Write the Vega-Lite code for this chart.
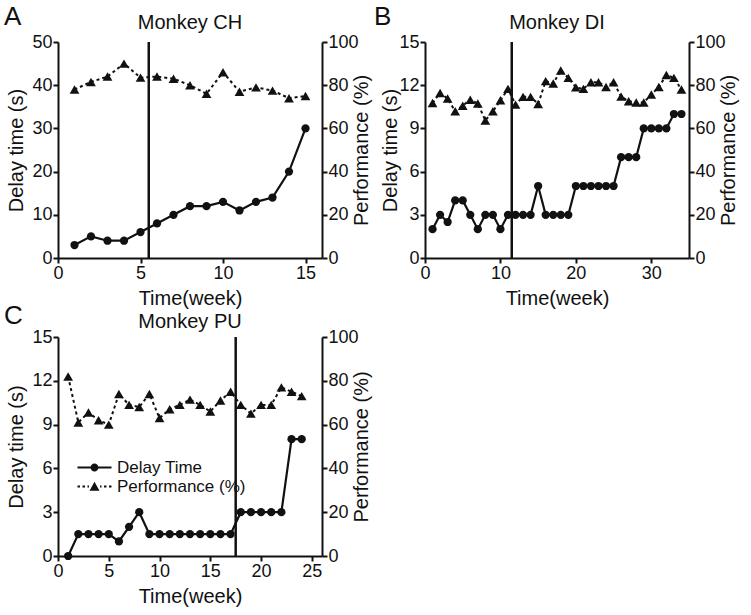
{
  "$schema": "https://vega.github.io/schema/vega-lite/v6.json",
  "background": "white",
  "padding": {"left": 3, "top": 4, "right": 3, "bottom": 3},
  "datasets": {
    "ch": [
      {"week": 1, "delay": 3, "perf": 78},
      {"week": 2, "delay": 5, "perf": 81.5},
      {"week": 3, "delay": 4, "perf": 84},
      {"week": 4, "delay": 4, "perf": 90},
      {"week": 5, "delay": 6, "perf": 83.5},
      {"week": 6, "delay": 8, "perf": 84},
      {"week": 7, "delay": 10, "perf": 83},
      {"week": 8, "delay": 12, "perf": 80},
      {"week": 9, "delay": 12, "perf": 76},
      {"week": 10, "delay": 13, "perf": 86},
      {"week": 11, "delay": 11, "perf": 77},
      {"week": 12, "delay": 13, "perf": 79},
      {"week": 13, "delay": 14, "perf": 77.5},
      {"week": 14, "delay": 20, "perf": 74},
      {"week": 15, "delay": 30, "perf": 75}
    ],
    "ch_switch": [{"week": 5.5}],
    "di": [
      {"week": 1, "delay": 2, "perf": 71.8},
      {"week": 2, "delay": 3, "perf": 76.4},
      {"week": 3, "delay": 2.5, "perf": 73.8},
      {"week": 4, "delay": 4, "perf": 67.9},
      {"week": 5, "delay": 4, "perf": 70.5},
      {"week": 6, "delay": 3, "perf": 73.3},
      {"week": 7, "delay": 2, "perf": 71.5},
      {"week": 8, "delay": 3, "perf": 63.7},
      {"week": 9, "delay": 3, "perf": 67.9},
      {"week": 10, "delay": 2, "perf": 73},
      {"week": 11, "delay": 3, "perf": 78.3},
      {"week": 12, "delay": 3, "perf": 71},
      {"week": 13, "delay": 3, "perf": 74.6},
      {"week": 14, "delay": 3, "perf": 74.6},
      {"week": 15, "delay": 5, "perf": 71.3},
      {"week": 16, "delay": 3, "perf": 81.9},
      {"week": 17, "delay": 3, "perf": 80.8},
      {"week": 18, "delay": 3, "perf": 86.8},
      {"week": 19, "delay": 3, "perf": 83.4},
      {"week": 20, "delay": 5, "perf": 79},
      {"week": 21, "delay": 5, "perf": 78.3},
      {"week": 22, "delay": 5, "perf": 81.4},
      {"week": 23, "delay": 5, "perf": 81.4},
      {"week": 24, "delay": 5, "perf": 79.2},
      {"week": 25, "delay": 5, "perf": 81.4},
      {"week": 26, "delay": 7, "perf": 74.7},
      {"week": 27, "delay": 7, "perf": 72.6},
      {"week": 28, "delay": 7, "perf": 72},
      {"week": 29, "delay": 9, "perf": 72},
      {"week": 30, "delay": 9, "perf": 75.7},
      {"week": 31, "delay": 9, "perf": 79.2},
      {"week": 32, "delay": 9, "perf": 84.7},
      {"week": 33, "delay": 10, "perf": 83.4},
      {"week": 34, "delay": 10, "perf": 78}
    ],
    "di_switch": [{"week": 11.5}],
    "pu": [
      {"week": 1, "delay": 0, "perf": 82},
      {"week": 2, "delay": 1.5, "perf": 61},
      {"week": 3, "delay": 1.5, "perf": 65.5},
      {"week": 4, "delay": 1.5, "perf": 62},
      {"week": 5, "delay": 1.5, "perf": 60},
      {"week": 6, "delay": 1, "perf": 74},
      {"week": 7, "delay": 2, "perf": 69},
      {"week": 8, "delay": 3, "perf": 68},
      {"week": 9, "delay": 1.5, "perf": 74},
      {"week": 10, "delay": 1.5, "perf": 63},
      {"week": 11, "delay": 1.5, "perf": 67},
      {"week": 12, "delay": 1.5, "perf": 69},
      {"week": 13, "delay": 1.5, "perf": 71.4},
      {"week": 14, "delay": 1.5, "perf": 69},
      {"week": 15, "delay": 1.5, "perf": 66},
      {"week": 16, "delay": 1.5, "perf": 71},
      {"week": 17, "delay": 1.5, "perf": 75},
      {"week": 18, "delay": 3, "perf": 69},
      {"week": 19, "delay": 3, "perf": 65},
      {"week": 20, "delay": 3, "perf": 69},
      {"week": 21, "delay": 3, "perf": 69},
      {"week": 22, "delay": 3, "perf": 77},
      {"week": 23, "delay": 8, "perf": 75},
      {"week": 24, "delay": 8, "perf": 73}
    ],
    "pu_switch": [{"week": 17.5}]
  },
  "config": {
    "font": "Liberation Sans",
    "view": {"stroke": null},
    "axis": {
      "grid": false,
      "domainColor": "#111",
      "domainWidth": 2,
      "tickColor": "#111",
      "tickWidth": 2,
      "tickSize": 5,
      "labelFontSize": 18,
      "labelColor": "#111",
      "labelPadding": 1,
      "labelFlush": false,
      "titleFontSize": 20,
      "titleFontWeight": "normal",
      "titleColor": "#111"
    },
    "axisLeft": {"titlePadding": 5},
    "axisRight": {"titlePadding": -7, "titleAngle": 270, "titleBaseline": "top"},
    "axisBottom": {"titlePadding": 6},
    "title": {"fontSize": 20, "fontWeight": "normal", "color": "#111"}
  },
  "resolve": {"scale": {"shape": "independent"}, "legend": {"shape": "independent"}},
  "spacing": -5,
  "vconcat": [
    {
      "spacing": 1,
      "resolve": {"scale": {"shape": "independent"}, "legend": {"shape": "independent"}},
      "hconcat": [
        {
          "title": {"text": "A", "anchor": "start", "fontSize": 26, "offset": -17, "dx": -3},
          "resolve": {"scale": {"shape": "independent"}, "legend": {"shape": "independent"}},
          "hconcat": [
            {
              "width": 264,
              "height": 216,
              "title": {"text": "Monkey CH", "offset": 0},
              "layer": [
                {
                  "data": {"name": "ch"},
                  "encoding": {
                    "x": {"field": "week", "type": "quantitative", "scale": {"domain": [0, 15]}, "axis": {"values": [0, 5, 10, 15], "title": "Time(week)"}},
                    "y": {"field": "delay", "type": "quantitative", "scale": {"domain": [0, 50]}, "axis": {"orient": "left", "values": [0, 10, 20, 30, 40, 50], "title": "Delay time (s)"}}
                  },
                  "layer": [
                    {"mark": {"type": "line", "color": "#111", "strokeWidth": 2.2}},
                    {"mark": {"type": "point", "shape": "circle", "filled": true, "color": "#111", "opacity": 1, "size": 68}}
                  ]
                },
                {
                  "data": {"name": "ch"},
                  "encoding": {
                    "x": {"field": "week", "type": "quantitative", "scale": {"domain": [0, 15]}},
                    "y": {"field": "perf", "type": "quantitative", "scale": {"domain": [0, 100]}, "axis": {"orient": "right", "values": [0, 20, 40, 60, 80, 100], "title": "Performance (%)"}}
                  },
                  "layer": [
                    {"mark": {"type": "line", "color": "#111", "strokeWidth": 2, "strokeDash": [3, 3]}},
                    {"mark": {"type": "point", "shape": "triangle-up", "filled": true, "color": "#111", "opacity": 1, "size": 95}}
                  ]
                },
                {
                  "data": {"name": "ch_switch"},
                  "mark": {"type": "rule", "color": "#111", "strokeWidth": 2.5},
                  "encoding": {"x": {"field": "week", "type": "quantitative"}}
                }
              ],
              "resolve": {"scale": {"y": "independent"}}
            }
          ]
        },
        {
          "title": {"text": "B", "anchor": "start", "fontSize": 26, "offset": -17, "dx": -7},
          "resolve": {"scale": {"shape": "independent"}, "legend": {"shape": "independent"}},
          "hconcat": [
            {
              "width": 264,
              "height": 216,
              "title": {"text": "Monkey DI", "offset": 0},
              "layer": [
                {
                  "data": {"name": "di"},
                  "encoding": {
                    "x": {"field": "week", "type": "quantitative", "scale": {"domain": [0, 35]}, "axis": {"values": [0, 5, 10, 15, 20, 25, 30, 35], "title": "Time(week)"}},
                    "y": {"field": "delay", "type": "quantitative", "scale": {"domain": [0, 15]}, "axis": {"orient": "left", "values": [0, 3, 6, 9, 12, 15], "title": "Delay time (s)", "titlePadding": -2}}
                  },
                  "layer": [
                    {"mark": {"type": "line", "color": "#111", "strokeWidth": 2.2}},
                    {"mark": {"type": "point", "shape": "circle", "filled": true, "color": "#111", "opacity": 1, "size": 68}}
                  ]
                },
                {
                  "data": {"name": "di"},
                  "encoding": {
                    "x": {"field": "week", "type": "quantitative", "scale": {"domain": [0, 35]}},
                    "y": {"field": "perf", "type": "quantitative", "scale": {"domain": [0, 100]}, "axis": {"orient": "right", "values": [0, 20, 40, 60, 80, 100], "title": "Performance (%)"}}
                  },
                  "layer": [
                    {"mark": {"type": "line", "color": "#111", "strokeWidth": 2, "strokeDash": [3, 3]}},
                    {"mark": {"type": "point", "shape": "triangle-up", "filled": true, "color": "#111", "opacity": 1, "size": 95}}
                  ]
                },
                {
                  "data": {"name": "di_switch"},
                  "mark": {"type": "rule", "color": "#111", "strokeWidth": 2.5},
                  "encoding": {"x": {"field": "week", "type": "quantitative"}}
                }
              ],
              "resolve": {"scale": {"y": "independent"}}
            }
          ]
        }
      ]
    },
    {
      "title": {"text": "C", "anchor": "start", "fontSize": 26, "offset": -17, "dx": -3},
      "resolve": {"scale": {"shape": "independent"}, "legend": {"shape": "independent"}},
      "hconcat": [
        {
          "width": 264,
          "height": 219,
          "title": {"text": "Monkey PU", "offset": -4},
          "layer": [
            {
              "data": {"name": "pu"},
              "encoding": {
                "x": {"field": "week", "type": "quantitative", "scale": {"domain": [0, 25]}, "axis": {"values": [0, 5, 10, 15, 20, 25], "title": "Time(week)"}},
                "y": {"field": "delay", "type": "quantitative", "scale": {"domain": [0, 15]}, "axis": {"orient": "left", "values": [0, 3, 6, 9, 12, 15], "title": "Delay time (s)"}}
              },
              "layer": [
                {"mark": {"type": "line", "color": "#111", "strokeWidth": 2.2}},
                {"mark": {"type": "point", "shape": "circle", "filled": true, "color": "#111", "opacity": 1, "size": 68}},
                {"transform": [{"fold": ["delay", "perf"], "as": ["series", "v"]}],
                 "mark": {"type": "point", "filled": false, "fill": "#111", "stroke": "#111", "strokeWidth": 2, "opacity": 0, "size": 100},
                 "encoding": {"shape": {"field": "series", "type": "nominal",
                   "scale": {"domain": ["delay", "perf"], "range": [
                     "M-3.4,-0.2L3.4,-0.2L3.4,0.2L-3.4,0.2ZM-0.8,0A0.8,0.8,0,1,1,0.8,0A0.8,0.8,0,1,1,-0.8,0Z",
                     "M-3.4,-0.2L-2.9,-0.2L-2.9,0.2L-3.4,0.2ZM-2.4,-0.2L-1.9,-0.2L-1.9,0.2L-2.4,0.2ZM-1.4,-0.2L-1.1,-0.2L-1.1,0.2L-1.4,0.2ZM1.1,-0.2L1.4,-0.2L1.4,0.2L1.1,0.2ZM1.9,-0.2L2.4,-0.2L2.4,0.2L1.9,0.2ZM2.9,-0.2L3.4,-0.2L3.4,0.2L2.9,0.2ZM0,-0.95L1,0.85L-1,0.85Z"
                   ]},
                   "legend": {
                     "orient": "none", "legendX": 28, "legendY": 122, "title": null, "padding": 0,
                     "labelFontSize": 17, "labelColor": "#111", "labelOffset": 14, "rowPadding": 1,
                     "symbolSize": 100, "symbolOpacity": 1, "symbolFillColor": "#111", "symbolStrokeColor": "#111", "symbolStrokeWidth": 2,
                     "labelExpr": "datum.value === 'delay' ? 'Delay Time' : 'Performance (%)'",
                     "encode": {"symbols": {"update": {
                       "stroke": {"value": "#111"}, "fill": {"value": "#111"}, "strokeWidth": {"value": 2}, "opacity": {"value": 1}, "strokeOpacity": {"value": 1}
                     }}}
                   }}}}
              ]
            },
            {
              "data": {"name": "pu"},
              "encoding": {
                "x": {"field": "week", "type": "quantitative", "scale": {"domain": [0, 25]}},
                "y": {"field": "perf", "type": "quantitative", "scale": {"domain": [0, 100]}, "axis": {"orient": "right", "values": [0, 20, 40, 60, 80, 100], "title": "Performance (%)"}}
              },
              "layer": [
                {"mark": {"type": "line", "color": "#111", "strokeWidth": 2, "strokeDash": [3, 3]}},
                {"mark": {"type": "point", "shape": "triangle-up", "filled": true, "color": "#111", "opacity": 1, "size": 95}}
              ]
            },
            {
              "data": {"name": "pu_switch"},
              "mark": {"type": "rule", "color": "#111", "strokeWidth": 2.5},
              "encoding": {"x": {"field": "week", "type": "quantitative"}}
            }
          ],
          "resolve": {"scale": {"y": "independent"}}
        }
      ]
    }
  ]
}
